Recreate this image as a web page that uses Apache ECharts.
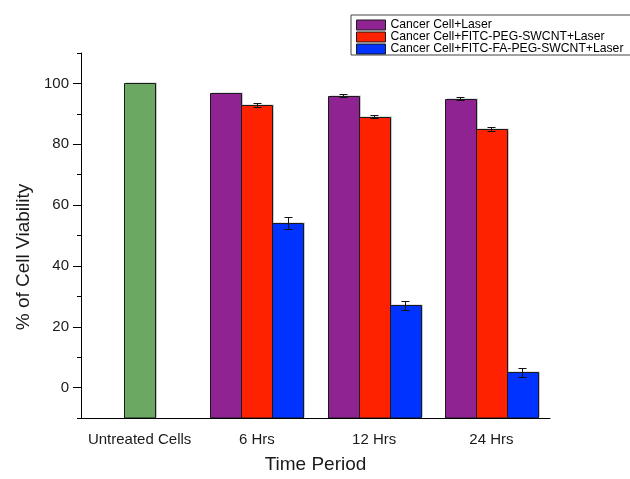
<!DOCTYPE html>
<html>
<head>
<meta charset="utf-8">
<script src="https://cdn.jsdelivr.net/npm/echarts@6/dist/echarts.min.js"></script>
<style>
  html, body { margin: 0; padding: 0; background: #fff; }
  #chart { width: 630px; height: 479px; }
</style>
</head>
<body>
<div id="chart"></div>
<script>
// Cell viability after laser treatment, grouped by time period
const categories = ['Untreated Cells', '6 Hrs', '12 Hrs', '24 Hrs'];
const seriesNames = [
  'Cancer Cell+Laser',
  'Cancer Cell+FITC-PEG-SWCNT+Laser',
  'Cancer Cell+FITC-FA-PEG-SWCNT+Laser'
];
const untreated = [100, null, null, null];
const laserOnly = [null, 97, 96, 95];
const pegLaser = [null, 93, 89, 85];
const faPegLaser = [null, 54, 27, 5];
const laserOnlyErr = [null, 0, 0.55, 0.6];
const pegLaserErr = [null, 0.6, 0.5, 0.6];
const faPegLaserErr = [null, 2.0, 1.5, 1.5];
const yMajorTicks = [0, 20, 40, 60, 80, 100];
const yMinorTicks = [-10, 10, 30, 50, 70, 90, 110];
const Y_MIN = -10;
const Y_MAX = 110;

const FONT = 'Liberation Sans, Arial, sans-serif';
const BAR_FRACTION = 0.265;

const colors = {
  green: '#6BA862',
  purple: '#8E2391',
  red: '#FF2200',
  blue: '#0033FF'
};

// Bars hang from the bottom of the value axis (its minimum), not from zero
function barRenderer(slot) {
  return function (params, api) {
    const i = api.value(0), v = api.value(1);
    const band = api.size([1, 0])[0];
    const w = band * BAR_FRACTION;
    const cx = api.coord([i, v])[0] + slot * w;
    const yTop = api.coord([i, v])[1];
    const yBase = api.coord([i, Y_MIN])[1];
    const x0 = Math.round(cx - w / 2) + 0.5;
    const x1 = Math.round(cx + w / 2) + 0.5;
    const y0 = Math.round(yTop) + 0.5;
    return {
      type: 'group',
      children: [
        {
          type: 'rect',
          shape: { x: x0 + 1.5, y: y0 - 1, width: x1 - x0, height: yBase - y0 },
          style: { fill: 'rgba(0,0,0,0.22)' }
        },
        {
          type: 'rect',
          shape: { x: x0, y: y0, width: x1 - x0, height: yBase - y0 },
          style: { fill: api.visual('color'), stroke: '#1a1a1a', lineWidth: 1 }
        }
      ]
    };
  };
}

function barSeries(name, values, slot, color) {
  const data = [];
  values.forEach((v, i) => { if (v != null) data.push([i, v]); });
  return {
    name: name,
    type: 'custom',
    data: data,
    renderItem: barRenderer(slot),
    encode: { x: 0, y: 1 },
    itemStyle: { color: color },
    clip: true,
    z: 2
  };
}

// error bar records: [category index, value, error, slot offset]
const errorData = [];
[[laserOnly, laserOnlyErr, -1], [pegLaser, pegLaserErr, 0], [faPegLaser, faPegLaserErr, 1]]
  .forEach(([vals, errs, slot]) => {
    vals.forEach((v, i) => {
      if (v != null && errs[i] > 0) errorData.push([i, v, errs[i], slot]);
    });
  });

function renderErrorBar(params, api) {
  const i = api.value(0), v = api.value(1), e = api.value(2), slot = api.value(3);
  const band = api.size([1, 0])[0];
  const x = Math.round(api.coord([i, v])[0] + slot * band * BAR_FRACTION) + 0.5;
  const yTop = Math.round(api.coord([i, v + e])[1]) + 0.5;
  const yBot = Math.round(api.coord([i, v - e])[1]) + 0.5;
  const cap = 4;
  const style = { stroke: '#111', lineWidth: 1 };
  return {
    type: 'group',
    children: [
      { type: 'line', shape: { x1: x, y1: yTop, x2: x, y2: yBot }, style },
      { type: 'line', shape: { x1: x - cap, y1: yTop, x2: x + cap, y2: yTop }, style },
      { type: 'line', shape: { x1: x - cap, y1: yBot, x2: x + cap, y2: yBot }, style }
    ]
  };
}

const chart = echarts.init(document.getElementById('chart'), null, { renderer: 'canvas' });

chart.setOption({
  animation: false,
  backgroundColor: '#fff',
  textStyle: { fontFamily: FONT },
  grid: { left: 81, right: 80, top: 53, bottom: 55.5 },
  legend: {
    data: seriesNames,
    orient: 'vertical',
    left: 351,
    top: 15,
    padding: [4, 12, 0, 5],
    itemWidth: 29,
    itemHeight: 10,
    itemGap: 0,
    icon: 'rect',
    borderColor: '#444',
    borderWidth: 1,
    itemStyle: { borderColor: '#1a1a1a', borderWidth: 1 },
    textStyle: { fontFamily: FONT, fontSize: 12.2, color: '#000', lineHeight: 12 }
  },
  xAxis: [
    {
      type: 'category',
      data: categories,
      axisLine: { onZero: false, lineStyle: { color: '#000', width: 1 } },
      axisTick: { alignWithLabel: false, interval: 0, length: 4, lineStyle: { color: '#000' } },
      axisLabel: { interval: 0, margin: 14, fontSize: 15, color: '#1a1a1a', fontFamily: FONT },
      name: 'Time Period',
      nameLocation: 'middle',
      nameGap: 37,
      nameTextStyle: { fontSize: 19, color: '#1a1a1a', fontFamily: FONT },
      splitLine: { show: false }
    },
    {
      type: 'category',
      data: categories,
      position: 'bottom',
      axisLine: { show: false, onZero: false },
      axisTick: { alignWithLabel: true, interval: 0, length: 9, lineStyle: { color: '#000' } },
      axisLabel: { show: false },
      splitLine: { show: false }
    }
  ],
  yAxis: [
    {
      type: 'value',
      min: Y_MIN,
      max: Y_MAX,
      interval: 10,
      axisLine: { show: true, onZero: false, lineStyle: { color: '#000', width: 1 } },
      axisTick: { show: true, customValues: yMajorTicks, length: 8, lineStyle: { color: '#000' } },
      axisLabel: { customValues: yMajorTicks, margin: 12, fontSize: 15, color: '#1a1a1a', fontFamily: FONT },
      splitLine: { show: false }
    },
    {
      type: 'value',
      min: Y_MIN,
      max: Y_MAX,
      interval: 10,
      position: 'left',
      axisLine: { show: false },
      axisTick: { show: true, customValues: yMinorTicks, length: 4, lineStyle: { color: '#000' } },
      axisLabel: { show: false },
      splitLine: { show: false }
    }
  ],
  graphic: [
    {
      type: 'text',
      x: 24,
      y: 257,
      rotation: Math.PI / 2,
      style: {
        text: '% of Cell Viability',
        font: '19px ' + FONT,
        fill: '#1a1a1a',
        align: 'center',
        verticalAlign: 'middle'
      }
    }
  ],
  series: [
    barSeries(seriesNames[0], laserOnly, -1, colors.purple),
    barSeries(seriesNames[1], pegLaser, 0, colors.red),
    barSeries(seriesNames[2], faPegLaser, 1, colors.blue),
    barSeries('Untreated', untreated, 0, colors.green),
    {
      name: 'error', type: 'custom', data: errorData,
      renderItem: renderErrorBar,
      encode: { x: 0, y: 1 },
      silent: true,
      z: 10
    }
  ]
});
</script>
</body>
</html>
